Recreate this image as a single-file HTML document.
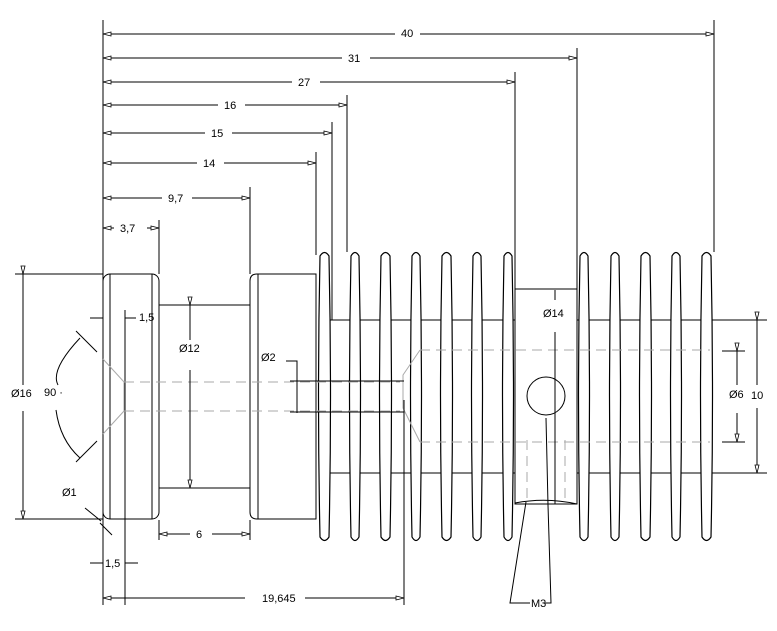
<!DOCTYPE html>
<html><head><style>
html,body{margin:0;padding:0;background:#fff;}
svg{display:block;}
text{font-family:"Liberation Sans",sans-serif;font-size:11px;fill:#000;}
</style></head><body>
<svg width="777" height="631" viewBox="0 0 777 631" xmlns="http://www.w3.org/2000/svg">
<defs>
<marker id="al" markerWidth="10" markerHeight="6" refX="0" refY="3" orient="auto"><path d="M0,3 L8,1 L8,5 Z" fill="#fff" stroke="#000" stroke-width="0.8"/></marker>
<marker id="ar" markerWidth="10" markerHeight="6" refX="9" refY="3" orient="auto"><path d="M9,3 L1,1 L1,5 Z" fill="#fff" stroke="#000" stroke-width="0.8"/></marker>
</defs>
<g stroke="#000" stroke-width="1" fill="none">
<line x1="103" y1="20" x2="103" y2="605"/>
<line x1="714" y1="20" x2="714" y2="252"/>
<line x1="577" y1="48" x2="577" y2="289"/>
<line x1="515" y1="72" x2="515" y2="289"/>
<line x1="347" y1="95" x2="347" y2="252"/>
<line x1="332" y1="122" x2="332" y2="320"/>
<line x1="316" y1="152" x2="316" y2="255"/>
<line x1="250" y1="187" x2="250" y2="274"/>
<line x1="159" y1="220" x2="159" y2="274"/>
<line x1="103" y1="34" x2="395" y2="34" marker-start="url(#al)"/><line x1="420" y1="34" x2="714" y2="34" marker-end="url(#ar)"/>
<line x1="103" y1="58" x2="342" y2="58" marker-start="url(#al)"/><line x1="370" y1="58" x2="577" y2="58" marker-end="url(#ar)"/>
<line x1="103" y1="82" x2="292" y2="82" marker-start="url(#al)"/><line x1="320" y1="82" x2="515" y2="82" marker-end="url(#ar)"/>
<line x1="103" y1="105" x2="218" y2="105" marker-start="url(#al)"/><line x1="245" y1="105" x2="347" y2="105" marker-end="url(#ar)"/>
<line x1="103" y1="133" x2="205" y2="133" marker-start="url(#al)"/><line x1="232" y1="133" x2="332" y2="133" marker-end="url(#ar)"/>
<line x1="103" y1="163" x2="197" y2="163" marker-start="url(#al)"/><line x1="224" y1="163" x2="316" y2="163" marker-end="url(#ar)"/>
<line x1="103" y1="198" x2="162" y2="198" marker-start="url(#al)"/><line x1="192" y1="198" x2="250" y2="198" marker-end="url(#ar)"/>
<line x1="103" y1="228" x2="114" y2="228" marker-start="url(#al)"/><line x1="147" y1="228" x2="159" y2="228" marker-end="url(#ar)"/>
<line x1="15" y1="274" x2="103" y2="274"/><line x1="15" y1="519" x2="103" y2="519"/>
<rect x="103" y="274" width="56" height="245" rx="7"/>
<line x1="110" y1="274" x2="110" y2="519"/><line x1="152" y1="274" x2="152" y2="519"/>
<line x1="159" y1="305" x2="250" y2="305"/><line x1="159" y1="488" x2="250" y2="488"/>
<path d="M257,274 H316 V519 H257 Q250,519 250,512 V281 Q250,274 257,274 Z"/>
<line x1="258" y1="274" x2="258" y2="519"/>
<line x1="329" y1="320" x2="720" y2="320"/><line x1="329" y1="473" x2="720" y2="473"/>
<rect x="515" y="289" width="62" height="215" fill="#fff"/>
<line x1="125" y1="310" x2="125" y2="605"/>
<g fill="#fff" stroke-width="1.2">
<path d="M320,256 Q324.5,249 329,256 Q332,396 329,537 Q324.5,544 320,537 Q317,396 320,256 Z"/>
<path d="M351,256 Q355,249 359,256 Q362,396 359,537 Q355,544 351,537 Q348,396 351,256 Z"/>
<path d="M381,256 Q385.5,249 390,256 Q393,396 390,537 Q385.5,544 381,537 Q378,396 381,256 Z"/>
<path d="M412,256 Q416,249 420,256 Q423,396 420,537 Q416,544 412,537 Q409,396 412,256 Z"/>
<path d="M442,256 Q446.5,249 451,256 Q454,396 451,537 Q446.5,544 442,537 Q439,396 442,256 Z"/>
<path d="M473,256 Q477,249 481,256 Q484,396 481,537 Q477,544 473,537 Q470,396 473,256 Z"/>
<path d="M504,256 Q508,249 512,256 Q515,396 512,537 Q508,544 504,537 Q501,396 504,256 Z"/>
<path d="M580,256 Q584,249 588,256 Q591,396 588,537 Q584,544 580,537 Q577,396 580,256 Z"/>
<path d="M611,256 Q615,249 619,256 Q622,396 619,537 Q615,544 611,537 Q608,396 611,256 Z"/>
<path d="M641,256 Q645.5,249 650,256 Q653,396 650,537 Q645.5,544 641,537 Q638,396 641,256 Z"/>
<path d="M672,256 Q676,249 680,256 Q683,396 680,537 Q676,544 672,537 Q669,396 672,256 Z"/>
<path d="M702,256 Q706.5,249 711,256 Q714,396 711,537 Q706.5,544 702,537 Q699,396 702,256 Z"/>
</g>
<circle cx="546" cy="396" r="19"/>
<g stroke="#aaa" stroke-dasharray="10,6">
<line x1="124" y1="382" x2="400" y2="382"/><line x1="124" y1="411" x2="400" y2="411"/>
<line x1="420" y1="350" x2="710" y2="350"/><line x1="420" y1="442" x2="710" y2="442"/>
<line x1="527" y1="440" x2="527" y2="500"/><line x1="565" y1="440" x2="565" y2="500"/>
</g>
<g stroke="#aaa">
<path d="M103,359 L124,382 V411 L103,434"/>
<path d="M420,350 L403,375 V408 L420,442"/>
</g>
<path d="M286,361 H297 V413"/>
<line x1="290" y1="381" x2="404" y2="381"/><line x1="290" y1="412" x2="404" y2="412"/>
<line x1="404" y1="400" x2="404" y2="605"/>
<line x1="23" y1="274" x2="23" y2="385" marker-start="url(#ar)"/><line x1="23" y1="411" x2="23" y2="519" marker-end="url(#ar)"/>
<line x1="190" y1="305" x2="190" y2="340" marker-start="url(#ar)"/><line x1="190" y1="370" x2="190" y2="488" marker-end="url(#ar)"/>
<path d="M80,338 Q50,370 58,385"/><path d="M56,410 Q60,440 80,458"/>
<line x1="76" y1="331" x2="97" y2="352"/><line x1="76" y1="462" x2="97" y2="441"/>
<line x1="90" y1="318" x2="103" y2="318"/><line x1="125" y1="318" x2="136" y2="318"/>
<line x1="85" y1="508" x2="101" y2="521"/><line x1="100" y1="523" x2="112" y2="535"/>
<line x1="159" y1="520" x2="159" y2="540"/><line x1="250" y1="520" x2="250" y2="540"/>
<line x1="159" y1="534" x2="190" y2="534" marker-start="url(#al)"/><line x1="212" y1="534" x2="250" y2="534" marker-end="url(#ar)"/>
<line x1="90" y1="563" x2="103" y2="563"/><line x1="125" y1="563" x2="138" y2="563"/>
<line x1="103" y1="598" x2="245" y2="598" marker-start="url(#al)"/><line x1="305" y1="598" x2="404" y2="598" marker-end="url(#ar)"/>
<line x1="555" y1="290" x2="555" y2="300"/><line x1="555" y1="332" x2="555" y2="504"/>
<line x1="715" y1="320" x2="767" y2="320"/><line x1="715" y1="473" x2="767" y2="473"/>
<line x1="757" y1="320" x2="757" y2="385" marker-start="url(#ar)"/><line x1="757" y1="408" x2="757" y2="473" marker-end="url(#ar)"/>
<line x1="722" y1="351" x2="745" y2="351"/><line x1="722" y1="442" x2="745" y2="442"/>
<line x1="737" y1="351" x2="737" y2="385" marker-start="url(#ar)"/><line x1="737" y1="413" x2="737" y2="442" marker-end="url(#ar)"/>
<path d="M526,502 L510,603 H530"/><path d="M546,418 L548,505 L551,603 H545"/>
<path d="M515,503 Q546,497 577,504"/>
</g>
<text x="401" y="37">40</text>
<text x="348" y="62">31</text>
<text x="298" y="86">27</text>
<text x="224" y="109">16</text>
<text x="211" y="137">15</text>
<text x="203" y="167">14</text>
<text x="168" y="202">9,7</text>
<text x="120" y="232">3,7</text>
<text x="139" y="321">1,5</text>
<text x="179" y="352">Ø12</text>
<text x="261" y="361">Ø2</text>
<text x="11" y="397">Ø16</text>
<text x="44" y="396">90 ·</text>
<text x="62" y="496">Ø1</text>
<text x="196" y="538">6</text>
<text x="105" y="567">1,5</text>
<text x="262" y="602">19,645</text>
<text x="543" y="317">Ø14</text>
<text x="729" y="398">Ø6</text>
<text x="751" y="399">10</text>
<text x="531" y="607">M3</text>
</svg>
</body></html>
